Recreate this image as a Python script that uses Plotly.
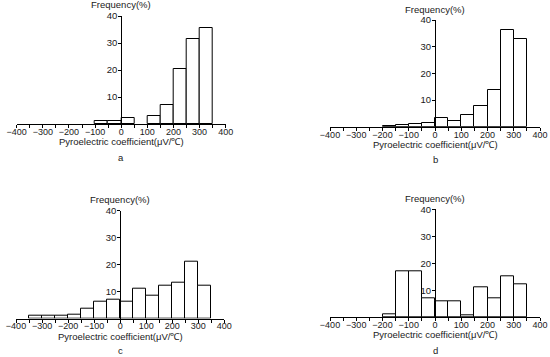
import plotly.graph_objects as go

W, H = 550, 357

# Bin lower edges (width 50)
bin_starts = [-400, -350, -300, -250, -200, -150, -100, -50, 0, 50, 100, 150, 200, 250, 300, 350]
bin_width = 50

freq_a = [0, 0, 0, 0, 0, 0, 1.0, 1.1, 2.1, 0, 3.1, 7.2, 20.5, 31.4, 35.6, 0]
freq_b = [0, 0, 0, 0, 0.4, 0.6, 0.9, 1.5, 3.1, 2.0, 4.5, 7.6, 13.6, 36.3, 32.8, 0]
freq_c = [0, 1.0, 1.0, 1.0, 1.3, 3.7, 6.1, 7.0, 6.2, 11.1, 8.4, 12.2, 13.2, 21.0, 12.1, 0]
freq_d = [0, 0, 0, 0, 1.0, 17.1, 17.1, 7.1, 6.0, 6.0, 0.9, 11.1, 7.1, 15.2, 12.1, 0]

x_tick_vals = [-400, -350, -300, -250, -200, -150, -100, -50, 0, 50, 100, 150, 200, 250, 300, 350, 400]
x_tick_text = ["\u2212400", "", "\u2212300", "", "\u2212200", "", "\u2212100", "", "0", "", "100", "", "200", "", "300", "", "400"]
y_tick_vals = [10, 20, 30, 40]
y_tick_text = ["10", "20", "30", "40"]

panel_letters = ["a", "b", "c", "d"]
series = [freq_a, freq_b, freq_c, freq_d]

# pixel boxes: (x_left(-400), x_right(400), y_top(40), y_bottom(0))
boxes = [
    (16.7, 225.7, 16.0, 124.0),
    (330.0, 540.0, 20.0, 126.7),
    (16.0, 224.3, 210.7, 318.5),
    (330.0, 540.0, 209.3, 317.3),
]

FONT = "Liberation Sans, Arial, sans-serif"
TXT = "#1a1a1a"

fig = go.Figure()
annotations = []

def px(x):
    return x / W

def py(y):
    return 1 - y / H

for i, (vals, box, letter) in enumerate(zip(series, boxes, panel_letters)):
    n = "" if i == 0 else str(i + 1)
    xl, xr, yt, yb = box
    xs = [s + bin_width / 2 for s, v in zip(bin_starts, vals) if v > 0]
    ys = [v for v in vals if v > 0]
    fig.add_trace(go.Bar(
        x=xs, y=ys, width=bin_width,
        marker=dict(color="white", line=dict(color="black", width=1)),
        xaxis="x" + n, yaxis="y" + n, showlegend=False, hoverinfo="x+y",
    ))
    xdom = [px(xl), px(xr)]
    ydom = [py(yb), py(yt)]
    yaxis_pos = xdom[0] + (0 - (-400)) / 800 * (xdom[1] - xdom[0])
    fig.update_layout(**{
        "xaxis" + n: dict(
            domain=xdom, range=[-400, 400], anchor="y" + n,
            showline=True, linecolor="black", linewidth=1,
            ticks="outside", ticklen=3, tickwidth=1, tickcolor="black",
            tickvals=x_tick_vals, ticktext=x_tick_text,
            showgrid=False, zeroline=False, automargin=False,
            ticklabelstandoff=-4, ticklabeloverflow="allow",
            tickfont=dict(family=FONT, size=9, color=TXT),
            fixedrange=True,
        ),
        "yaxis" + n: dict(
            domain=ydom, range=[0, 40], anchor="free", position=yaxis_pos,
            showline=True, linecolor="black", linewidth=1,
            ticks="outside", ticklen=3, tickwidth=1, tickcolor="black",
            tickvals=y_tick_vals, ticktext=y_tick_text,
            showgrid=False, zeroline=False, automargin=False,
            ticklabelstandoff=-1, ticklabeloverflow="allow",
            tickfont=dict(family=FONT, size=9.5, color=TXT),
            fixedrange=True,
        ),
    })
    cx = xl + (xr - xl) / 2
    annotations.append(dict(
        text="Frequency(%)", x=px(cx), y=py(yt - 11), xref="paper", yref="paper",
        showarrow=False, xanchor="center", yanchor="middle",
        font=dict(family=FONT, size=9.5, color=TXT),
    ))
    annotations.append(dict(
        text="Pyroelectric coefficient(\u03bcV/\u2103)", x=px(cx), y=py(yb + 17.5), xref="paper", yref="paper",
        showarrow=False, xanchor="center", yanchor="middle",
        font=dict(family=FONT, size=9.5, color=TXT),
    ))
    annotations.append(dict(
        text=letter, x=px(cx), y=py(min(yb + 33, 350.5)), xref="paper", yref="paper",
        showarrow=False, xanchor="center", yanchor="middle",
        font=dict(family=FONT, size=9.5, color=TXT),
    ))

fig.update_layout(
    template="none",
    width=W, height=H,
    margin=dict(l=0, r=0, t=0, b=0, autoexpand=False),
    paper_bgcolor="white", plot_bgcolor="white",
    annotations=annotations,
    bargap=0,
)

# remove the browser's default 8px body margin so the figure fills the window
fig.write_html(
    "out.html",
    config={"displayModeBar": False},
    post_script="document.body.style.margin='0';document.body.style.overflow='hidden';",
)
